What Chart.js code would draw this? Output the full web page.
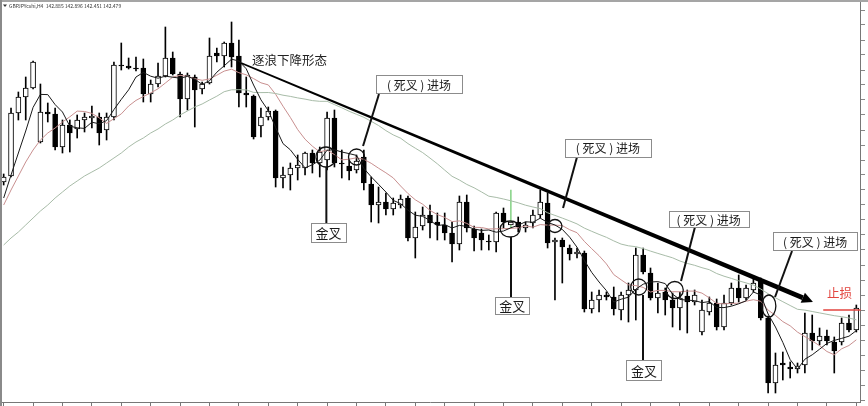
<!DOCTYPE html>
<html><head><meta charset="utf-8">
<script src="https://cdn.jsdelivr.net/npm/chart.js@4.4.1/dist/chart.umd.min.js"></script>
<style>html,body{margin:0;padding:0;background:#fff;overflow:hidden}canvas{display:block}</style>
</head><body>
<canvas id="c" width="868" height="406"></canvas>
<script>
// ---- data (points) ----
const headerText = 'GBPJPYcshi,H4  142.885 142.896 142.451 142.479';
const candles = Array.from({length: 117}, (_, i) => String(i));
const open = [218,224,287,303,312,258,288,286,253,275, 271,280,282,283,270,283,335,334,332,332,
  306,316,324,342,326,301,323,311,317,347, 344,357,344,307,304,274,283,289,222,225,
  232,232,247,237,240,282,237,234,230,243, 216,195,198,191,195,202,162,174,185,178,
  175,167,156,198,171,167,159,158,187,175, 178,172,177,185,197,158,160,152,146,147,
  91,100,105,103,90,105,110,145,127,102, 108,100,92,104,98,68,88,97,73,97,
  112,102,110,120,82,17,37,33,31,35, 67,59,64,58,58,77,70];
const high = [226,292,308,323,339,316,297,292,280,280, 285,287,294,287,287,338,357,342,343,341,
  320,337,373,348,328,327,325,318,362,352, 358,378,360,323,305,292,293,290,233,237,
  245,248,250,253,288,290,250,240,245,250, 223,213,207,202,205,204,188,193,195,187,
  187,178,204,205,174,171,165,188,192,210, 183,178,190,210,207,162,162,155,152,149,
  108,110,108,113,108,117,152,152,132,117, 112,107,108,110,110,100,103,101,105,117,
  125,115,121,122,84,47,48,38,37,87, 85,72,70,63,82,85,95];
const low = [215,223,280,280,311,257,278,250,247,248, 262,268,272,255,260,280,330,331,329,298,
  298,313,323,325,283,290,273,306,316,338, 333,333,293,293,261,263,280,213,212,210,
  220,225,227,223,230,233,222,220,227,210, 178,177,185,185,192,159,142,170,162,160,
  160,138,150,168,149,150,150,148,172,172, 168,168,172,182,152,100,117,140,142,88,
  87,88,100,85,80,78,80,126,100,87, 85,73,70,67,95,65,85,70,70,95,
  98,100,108,80,7,7,20,22,27,27, 50,55,55,27,55,68,68];
const close = [223,287,303,312,338,288,286,253,275,267, 280,283,284,267,283,335,334,332,331,306,
  316,324,342,326,301,325,310,316,344,344, 357,343,307,305,263,283,289,222,225,232,
  235,247,237,248,282,237,236,229,239,217, 195,198,191,197,201,162,173,185,177,175,
  167,156,198,172,162,160,158,187,178,178, 173,175,185,198,157,160,153,146,148,91,
  100,105,103,91,105,110,145,128,102,107, 100,92,102,98,105,90,97,73,97,112,
  102,112,117,82,17,35,35,31,34,67, 59,64,59,49,77,70,92];
const maFast = [202,225,247,269,292.6,305.6,305.4,295.4,288,273.8, 272.2,271.6,277.8,276.2,279.4,290.4,300.6,310.2,323,327.6,
  323.8,321.8,323.8,322.8,321.8,323.6,320.8,315.6,319.2,327.8, 334.2,340.8,339,331.2,315,300.2,289.4,272.4,256.4,250.2,
  240.6,232.2,235.2,239.8,249.8,250.2,248,246.4,244.6,231.6, 223.2,215.6,208,199.6,196.4,189.8,184.8,183.6,179.6,174.4,
  175.4,172,174.6,173.6,171,169.6,170,167.8,169,172.2, 174.8,178.2,177.8,181.8,177.6,175,170.6,162.8,152.8,139.6,
  127.6,118,109.4,98,100.8,102.8,110.8,115.8,118,118.4, 116.4,105.8,100.6,99.8,99.4,97.4,98.4,92.6,92.4,93.8,
  96.2,99.2,108,105,86,73,57.6,40.4,30.8,40.8, 45.2,50.8,56.6,59.6,61.6,63.8,69.4];
const maMid = [195,210,224,238,250,260,267,272,278,283.2, 288.9,288.5,286.6,282.1,276.6,281.3,286.1,294,299.6,303.5,
  307.1,311.2,317,322.9,324.7,323.7,321.3,319.7,321,324.8, 328.9,330.8,327.3,325.2,321.4,317.2,315.1,305.7,293.8,282.6,
  270.4,260.8,253.8,248.1,250,245.4,240.1,240.8,242.2,240.7, 236.7,231.8,227.2,222.1,214,206.5,200.2,195.8,189.6,185.4,
  182.6,178.4,179.1,176.6,172.7,172.5,171,171.2,171.3,171.6, 172.2,174.1,172.8,175.4,174.9,174.9,174.4,170.3,167.3,158.6,
  151.3,144.3,136.1,125.4,120.2,115.2,114.4,112.6,108,109.6, 109.6,108.3,108.2,108.9,108.9,106.9,102.1,96.6,96.1,96.6,
  96.8,98.8,100.3,98.7,89.9,84.6,78.4,74.2,67.9,63.4, 59.1,54.3,48.5,45.2,51.2,54.5,60.2];
const maSlow = [155,162,168,175,182,189,195,202,208,214, 219,224,228,232,237,242,247,253,258,262,
  267,271,276,280,285,289,293,296,300,303.8, 308.3,310.2,310.3,310.1,307.6,307.4,307.5,306.5,304.8,303.6,
  302.1,300.9,299.4,298.7,298.7,295.4,292.2,288.7,285.7,282.7, 278.7,274.5,269.4,265.1,261.8,256.4,251.8,247.4,241.9,236.2,
  229.9,223.7,220,215.6,212.2,208.1,203.8,202.6,201,199.2, 197.2,194.8,193,191.4,187.2,184.6,181.9,179.1,176.1,171.9,
  168.7,165.6,162.7,159.1,155.9,154.2,153.3,151.4,148.9,146.6, 144.4,142.2,139,136.6,134.7,132.3,130.3,126.5,123.8,121.6,
  119.2,117.1,114.9,111,106.3,102.2,98.3,94.5,90.7,89.9, 88.5,87.1,85.7,84.3,83.3,82,80.2];
const highlightCandle = 69;
// annotations, anchored in (candle index, value)
const trend = {from: [32.3, 337], to: [110.1, 98]};
const waveText = {at: [33.8, 340], text: '逐浪下降形态'};
const stopText = {at: [113.7, 107], text: '止损'};
const stopLine = {from: [111.5, 90], to: [116.6, 90]};
const marks = [
  {c: [43.85, 243], l: [[43.9, 233], [43.9, 177]], b: [44.2, 167.5], t: '金叉'},
  {c: [48.0, 243],  l: [[51.06, 306], [48.89, 254]], b: [56.5, 315.5], t: '( 死叉 ) 进场'},
  {c: [68.9, 171],  l: [[69.02, 163], [69.02, 103]], b: [69.2, 95], t: '金叉'},
  {c: [75.0, 174],  l: [[78.0, 243], [76.1, 192]], b: [82.2, 252.5], t: '( 死叉 ) 进场'},
  {c: [86.4, 113],  l: [[86.98, 105], [86.98, 40]], b: [87.1, 30], t: '金叉'},
  {c: [91.3, 110],  l: [[94.05, 173], [92.15, 119]], b: [95.9, 180.5], t: '( 死叉 ) 进场'},
  {c: [104.1, 94],  l: [[107.25, 149], [104.94, 103]], b: [110.4, 159], t: '( 死叉 ) 进场'}
];
// ---- styles ----
const markStyle = [
  {r: [10, 10], s: [35, 19]}, {r: [8, 8], s: [86, 18]}, {r: [10, 8], s: [34, 17]}, {r: [7, 6.5], s: [86, 18]},
  {r: [8, 8], s: [35, 20]}, {r: [8.5, 8.5], s: [80, 16]}, {r: [7, 11], s: [84, 18]}
];
const FONT = '"Noto Sans CJK SC","Noto Sans",sans-serif';

const annot = {
  id: 'annot',
  beforeDraw(chart) {
    const c = chart.ctx; c.save(); c.fillStyle = '#fff'; c.fillRect(0, 0, chart.width, chart.height); c.restore();
  },
  afterDraw(chart) {
    const c = chart.ctx, xs = chart.scales.x, ys = chart.scales.y;
    const X = i => xs.getPixelForValue(i), Y = v => ys.getPixelForValue(v);
    c.save();
    // frame
    c.fillStyle = '#a5a5a5'; c.fillRect(0, 0, chart.width, 2);
    c.fillStyle = '#8a8a8a'; c.fillRect(0, 0, 2, chart.height);
    c.fillStyle = '#333'; c.font = '5px ' + FONT; c.textBaseline = 'middle'; c.textAlign = 'left';
    c.beginPath(); c.moveTo(3, 4.5); c.lineTo(7, 4.5); c.lineTo(5, 7); c.closePath(); c.fill();
    c.fillText(headerText, 9, 6);
    // trend line (tapered) with arrow head
    const x1 = X(trend.from[0]), y1 = Y(trend.from[1]), x2 = X(trend.to[0]), y2 = Y(trend.to[1]);
    const ang = Math.atan2(y2 - y1, x2 - x1), nx = -Math.sin(ang), ny = Math.cos(ang);
    const head = 11, bx = x2 - Math.cos(ang) * head, by = y2 - Math.sin(ang) * head;
    c.fillStyle = '#000';
    c.beginPath();
    c.moveTo(x1 + nx * 0.9, y1 + ny * 0.9); c.lineTo(bx + nx * 2.4, by + ny * 2.4);
    c.lineTo(bx - nx * 2.4, by - ny * 2.4); c.lineTo(x1 - nx * 0.9, y1 - ny * 0.9);
    c.closePath(); c.fill();
    c.beginPath(); c.moveTo(x2, y2); c.lineTo(bx + nx * 5.5, by + ny * 5.5); c.lineTo(bx - nx * 5.5, by - ny * 5.5); c.closePath(); c.fill();
    // texts
    c.font = '12.5px ' + FONT; c.fillStyle = '#222'; c.textAlign = 'left';
    c.fillText(waveText.text, X(waveText.at[0]), Y(waveText.at[1]));
    c.fillStyle = '#e2453f'; c.textAlign = 'center';
    c.fillText(stopText.text, X(stopText.at[0]), Y(stopText.at[1]));
    c.strokeStyle = '#e2453f'; c.lineWidth = 1.5;
    c.beginPath(); c.moveTo(X(stopLine.from[0]), Y(stopLine.from[1])); c.lineTo(X(stopLine.to[0]), Y(stopLine.to[1])); c.stroke();
    // cross marks
    marks.forEach((m, k) => {
      const st = markStyle[k];
      c.strokeStyle = '#111'; c.lineWidth = 1.3;
      c.beginPath(); c.ellipse(X(m.c[0]), Y(m.c[1]), st.r[0], st.r[1], 0, 0, Math.PI * 2); c.stroke();
      c.lineWidth = 2;
      c.beginPath(); c.moveTo(X(m.l[0][0]), Y(m.l[0][1])); c.lineTo(X(m.l[1][0]), Y(m.l[1][1])); c.stroke();
      const bxc = X(m.b[0]), byc = Y(m.b[1]), w = st.s[0], h = st.s[1];
      c.fillStyle = '#fff'; c.fillRect(Math.round(bxc - w / 2) + 0.5, Math.round(byc - h / 2) + 0.5, w, h);
      c.strokeStyle = '#8c8c8c'; c.lineWidth = 1;
      c.strokeRect(Math.round(bxc - w / 2) + 0.5, Math.round(byc - h / 2) + 0.5, w, h);
      c.fillStyle = '#1a1a1a'; c.textAlign = 'center';
      c.font = (m.t.length > 3 ? '12px ' : '13px ') + FONT;
      c.fillText(m.t, bxc, byc + 1);
    });
    c.restore();
  }
};

const bull = open.map((o, i) => close[i] > o);
new Chart(document.getElementById('c'), {
  type: 'bar',
  data: {
    labels: candles,
    datasets: [
      {label: 'wick', data: low.map((l, i) => [l, high[i]]), barThickness: 1, grouped: false, order: 3,
       backgroundColor: candles.map((_, i) => i === highlightCandle ? '#8fd68f' : '#000'), borderWidth: 0},
      {label: 'body', data: open.map((o, i) => [o, close[i]]), barThickness: 5, grouped: false, order: 2,
       backgroundColor: bull.map(b => b ? '#fff' : '#000'), borderColor: '#000', borderWidth: 1, borderSkipped: false},
      {type: 'line', label: 'MA30', data: maSlow, borderColor: '#a8bca8', borderWidth: 1, pointRadius: 0, order: 1},
      {type: 'line', label: 'MA10', data: maMid, borderColor: '#c99090', borderWidth: 1, pointRadius: 0, order: 1},
      {type: 'line', label: 'MA5', data: maFast, borderColor: '#1a1a1a', borderWidth: 1, pointRadius: 0, order: 0}
    ]
  },
  options: {
    responsive: false, animation: false, devicePixelRatio: 1,
    layout: {padding: {left: 0, right: 3, top: 0, bottom: 0}},
    plugins: {legend: {display: false}, tooltip: {enabled: false}},
    scales: {
      x: {type: 'category', offset: true,
          grid: {offset: false, drawOnChartArea: false, tickLength: 4, color: ctx => (ctx.index % 4 === 0 ? '#777' : 'rgba(0,0,0,0)')},
          ticks: {display: false}, border: {color: '#777'}},
      y: {position: 'right', min: -2, max: 400,
          grid: {drawOnChartArea: false, tickLength: 5, color: '#888'},
          ticks: {display: false, stepSize: 15, includeBounds: false}, border: {color: '#777'}}
    }
  },
  plugins: [annot]
});
</script></body></html>
